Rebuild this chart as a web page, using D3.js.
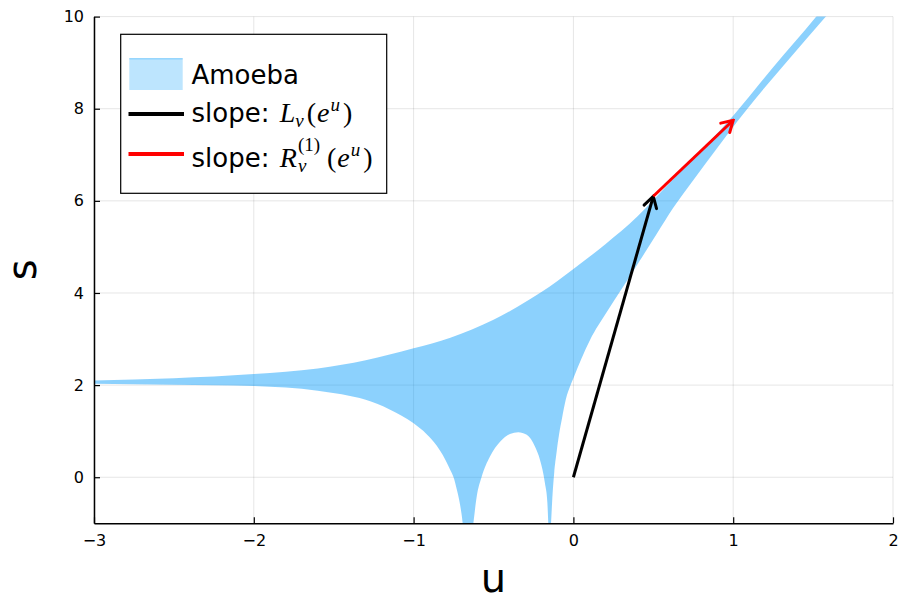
<!DOCTYPE html>
<html>
<head>
<meta charset="utf-8">
<script src="https://cdn.jsdelivr.net/npm/d3@7"></script>
<style>
  body { margin: 0; background: #fff; }
  svg { display: block; font-family: 'DejaVu Sans', sans-serif; }
</style>
</head>
<body>
<svg></svg>
<script>
// amoeba outline: upper edge and lower edge, u -> s
const upperU = [-3, -2.5, -2.0, -1.6, -1.3, -1.0, -0.77, -0.5, -0.35, -0.2, -0.1, 0, 0.2, 0.4, 0.5, 0.667, 1.0, 1.25, 1.52, 1.6];
const upperS = [2.10, 2.15, 2.24, 2.36, 2.54, 2.80, 3.03, 3.42, 3.70, 4.02, 4.26, 4.52, 5.06, 5.66, 6.02, 6.62, 7.85, 8.9, 10.0, 10.35];

const lowerU = [-3, -2.5, -2.0, -1.6, -1.45, -1.3, -1.15, -1.0, -0.92, -0.856, -0.835, -0.80, -0.772, -0.75, -0.73, -0.71, -0.70, -0.693, -0.685,
  -0.640, -0.626, -0.605, -0.574, -0.522, -0.459, -0.397, -0.345, -0.292, -0.240, -0.209, -0.178, -0.163, -0.157, -0.152,
  -0.146, -0.140, -0.130, -0.120, -0.105, -0.09, -0.07, -0.048, -0.02, 0, 0.05, 0.104, 0.208, 0.312, 0.417, 0.521, 0.625,
  0.75, 0.9, 1.084, 1.33, 1.58, 1.66];
const lowerS = [2.03, 2.01, 1.98, 1.88, 1.80, 1.68, 1.47, 1.17, 0.94, 0.69, 0.58, 0.37, 0.17, 0.0, -0.26, -0.58, -0.80, -1.0, -1.4,
  -1.4, -1.0, -0.42, 0.01, 0.45, 0.77, 0.94, 0.976, 0.92, 0.66, 0.375, -0.13, -0.55, -1.0, -1.4,
  -1.4, -1.0, -0.35, 0.10, 0.55, 0.92, 1.30, 1.68, 1.98, 2.15, 2.57, 2.98, 3.58, 4.14, 4.71, 5.28, 5.85,
  6.45, 7.15, 7.98, 9.0, 10.0, 10.32];

// slope arrows: [u0, s0, u1, s1]
const arrowL = [0, 0, 0.5, 6.1];
const arrowR = [0.5, 6.1, 1.0, 7.75];

const xTicks = [-3, -2, -1, 0, 1, 2];
const yTicks = [0, 2, 4, 6, 8, 10];

const w = 898;
const h = 600;
const svg = d3.select('svg').attr('width', w).attr('height', h);

const padL = 94, padR = 893, padT = 16.6, padB = 523.3;

const x = d3.scaleLinear().domain([-3, 2]).range([padL, padR]);
const y = d3.scaleLinear().domain([-1, 10]).range([padB, padT]);

const fillColor = '#009AFA';

const defs = svg.append('defs');
defs.append('clipPath').attr('id', 'plot-clip')
  .append('rect')
  .attr('x', padL).attr('y', padT)
  .attr('width', padR - padL).attr('height', padB - padT);

// grid
const grid = svg.append('g').attr('stroke', '#000').attr('stroke-opacity', 0.1).attr('stroke-width', 1);
grid.selectAll('.gx').data(xTicks).enter().append('line')
  .attr('x1', (d) => x(d)).attr('x2', (d) => x(d))
  .attr('y1', padT).attr('y2', padB);
grid.selectAll('.gy').data(yTicks).enter().append('line')
  .attr('x1', padL).attr('x2', padR)
  .attr('y1', (d) => y(d)).attr('y2', (d) => y(d));

// amoeba region
const upperPts = upperU.map((u, i) => [u, upperS[i]]);
const lowerPts = lowerU.map((u, i) => [u, lowerS[i]]).reverse();
const line = d3.line().x((d) => x(d[0])).y((d) => y(d[1])).curve(d3.curveMonotoneX);
const regionPath = line(upperPts) + line(lowerPts).replace(/^M/, 'L') + 'Z';

svg.append('g').attr('clip-path', 'url(#plot-clip)')
  .append('path')
  .attr('d', regionPath)
  .attr('fill', fillColor)
  .attr('fill-opacity', 0.45)
  .attr('stroke', 'none');

// arrows
[['head-black', '#000'], ['head-red', '#f00']].forEach(([id, c]) => {
  defs.append('marker')
    .attr('id', id)
    .attr('markerUnits', 'userSpaceOnUse')
    .attr('viewBox', '-14 -10 16 20')
    .attr('markerWidth', 16).attr('markerHeight', 20)
    .attr('refX', 0).attr('refY', 0)
    .attr('orient', 'auto')
    .append('path')
    .attr('d', 'M-11,-6.5L0,0L-11,6.5')
    .attr('fill', 'none')
    .attr('stroke', c)
    .attr('stroke-width', 3)
    .attr('stroke-linecap', 'round')
    .attr('stroke-linejoin', 'miter');
});

[[arrowL, '#000', 'head-black'], [arrowR, '#f00', 'head-red']].forEach(([a, c, m]) => {
  svg.append('line')
    .attr('x1', x(a[0])).attr('y1', y(a[1]))
    .attr('x2', x(a[2])).attr('y2', y(a[3]))
    .attr('stroke', c)
    .attr('stroke-width', 3)
    .attr('marker-end', `url(#${m})`);
});

// axes
const fmt = d3.format('d');
const xAxis = d3.axisBottom(x).tickValues(xTicks).tickFormat(fmt).tickSize(-6).tickSizeOuter(0).tickPadding(11);
const yAxis = d3.axisLeft(y).tickValues(yTicks).tickFormat(fmt).tickSize(-6).tickSizeOuter(0).tickPadding(10);

const gx = svg.append('g').attr('transform', `translate(0,${padB})`).call(xAxis);
const gy = svg.append('g').attr('transform', `translate(${padL},0)`).call(yAxis);
[gx, gy].forEach((g) => {
  g.select('.domain').attr('stroke', '#000').attr('stroke-width', 1.5);
  g.selectAll('.tick line').attr('stroke', '#000').attr('stroke-width', 1.2);
  g.selectAll('.tick text').attr('fill', '#000').attr('font-size', 16)
    .attr('font-family', "'DejaVu Sans', sans-serif");
});

svg.append('text')
  .attr('x', (padL + padR) / 2).attr('y', 592)
  .attr('text-anchor', 'middle')
  .attr('font-size', 40)
  .text('u');

svg.append('text')
  .attr('transform', `translate(36,${(padT + padB) / 2}) rotate(-90)`)
  .attr('text-anchor', 'middle')
  .attr('font-size', 40)
  .text('s');

// legend
const lg = svg.append('g');
lg.append('rect')
  .attr('x', 120.7).attr('y', 34.3)
  .attr('width', 266).attr('height', 159)
  .attr('fill', '#fff').attr('stroke', '#000').attr('stroke-width', 1.2);

lg.append('rect')
  .attr('x', 129.3).attr('y', 58.3)
  .attr('width', 53.4).attr('height', 31.7)
  .attr('fill', fillColor).attr('fill-opacity', 0.26);
lg.append('line')
  .attr('x1', 129.3).attr('x2', 182.7).attr('y1', 58.8).attr('y2', 58.8)
  .attr('stroke', fillColor).attr('stroke-opacity', 0.4).attr('stroke-width', 1);

lg.append('line').attr('x1', 128.5).attr('x2', 184).attr('y1', 114).attr('y2', 114)
  .attr('stroke', '#000').attr('stroke-width', 4);
lg.append('line').attr('x1', 128.5).attr('x2', 184).attr('y1', 154).attr('y2', 154)
  .attr('stroke', '#f00').attr('stroke-width', 4);

const textX = 191.5;
const serif = "'Liberation Serif', 'DejaVu Serif', serif";

lg.append('text').attr('x', textX).attr('y', 84).attr('font-size', 26).text('Amoeba');

const t1 = lg.append('text').attr('x', textX).attr('y', 122).attr('font-size', 26);
t1.append('tspan').text('slope: ');
t1.append('tspan').attr('font-family', serif).attr('font-style', 'italic').attr('font-size', 28).attr('dx', 2).text('L');
t1.append('tspan').attr('font-family', serif).attr('font-style', 'italic').attr('font-size', 19).attr('dy', 5).text('v');
t1.append('tspan').attr('font-family', serif).attr('font-size', 28).attr('dy', -5).attr('dx', 3).text('(');
t1.append('tspan').attr('font-family', serif).attr('font-style', 'italic').attr('font-size', 28).attr('dx', 1).text('e');
t1.append('tspan').attr('font-family', serif).attr('font-style', 'italic').attr('font-size', 19).attr('dy', -11).attr('dx', 1).text('u');
t1.append('tspan').attr('font-family', serif).attr('font-size', 28).attr('dy', 11).attr('dx', 3).text(')');

const t2y = 167;
const t2 = lg.append('text').attr('x', textX).attr('y', t2y).attr('font-size', 26);
t2.append('tspan').text('slope: ');
t2.append('tspan').attr('font-family', serif).attr('font-style', 'italic').attr('font-size', 28).attr('dx', 2).text('R');
lg.append('text').attr('x', 298).attr('y', t2y - 16).attr('font-family', serif).attr('font-size', 19).text('(1)');
lg.append('text').attr('x', 298).attr('y', t2y + 5).attr('font-family', serif).attr('font-style', 'italic').attr('font-size', 19).text('v');
const t3 = lg.append('text').attr('x', 327).attr('y', t2y).attr('font-family', serif).attr('font-size', 28);
t3.append('tspan').text('(');
t3.append('tspan').attr('font-style', 'italic').attr('dx', 1).text('e');
t3.append('tspan').attr('font-style', 'italic').attr('font-size', 19).attr('dy', -11).attr('dx', 1).text('u');
t3.append('tspan').attr('dy', 11).attr('dx', 3).text(')');
</script>
</body>
</html>
